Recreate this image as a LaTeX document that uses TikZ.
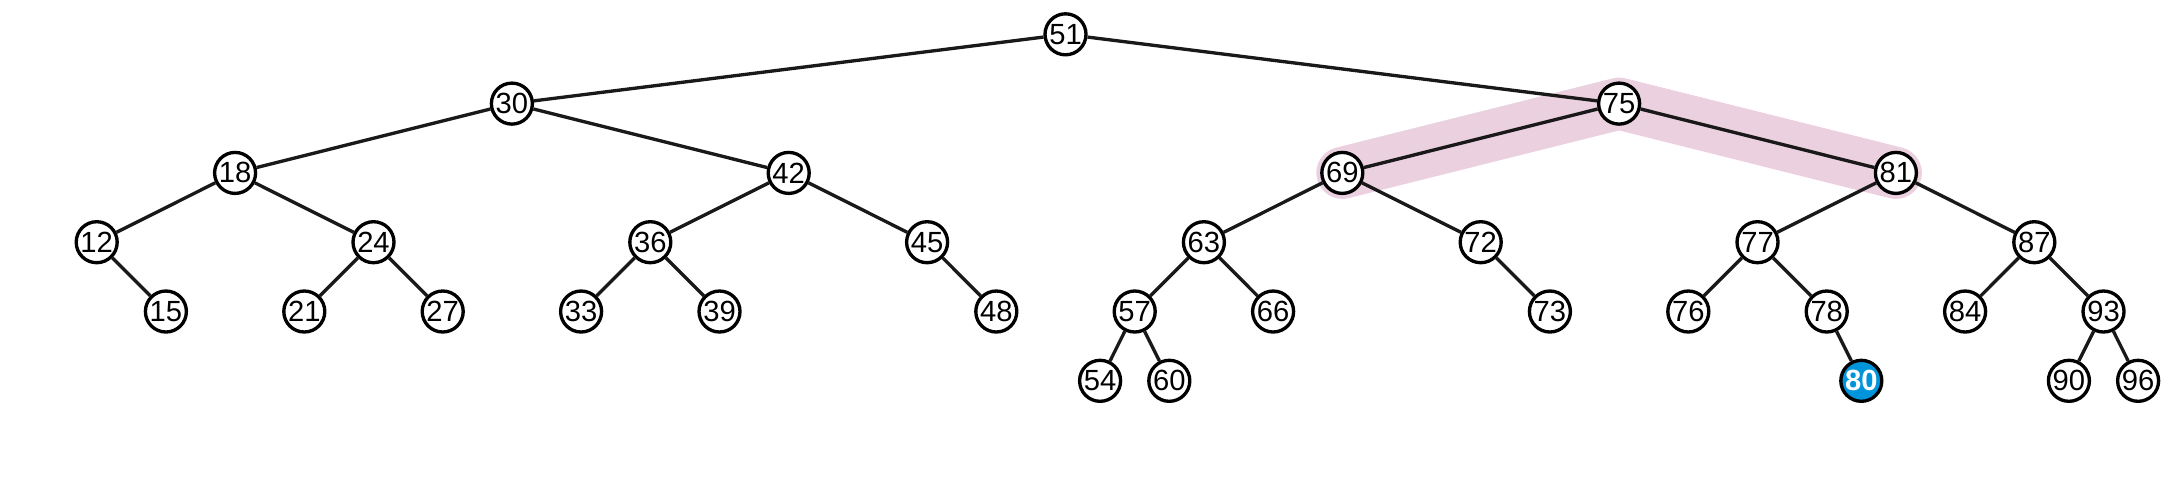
\documentclass[tikz,border=0pt]{standalone}
\usepackage{fontspec}
\setmainfont{Liberation Sans}
\usetikzlibrary{backgrounds}
\definecolor{hlpink}{RGB}{235,208,224}
\definecolor{nodeblue}{RGB}{0,148,218}
\tikzset{
  tn/.style={circle, draw=black, fill=white, line width=0.95pt, inner sep=0pt,
    minimum size=0.41cm, font=\fontsize{8.3}{9}\selectfont},
  hot/.style={tn, fill=nodeblue, text=white, font=\fontsize{8.3}{9}\selectfont\bfseries},
  edge/.style={line width=0.95pt, draw=black!90},
  hl/.style={line width=0.52cm, draw=hlpink, line cap=round, line join=round}
}
\begin{document}
\begin{tikzpicture}
\useasboundingbox (0,0) rectangle (21.68,-4.78);
\begin{scope}[shift={(0.967cm,-0.343cm)}, x=0.692cm, y=-0.693cm]
\node[tn] (a51) at (14,0) {51};
\node[tn] (a30) at (6,1) {30};
\node[tn] (a75) at (22,1) {75};
\node[tn] (a18) at (2,2) {18};
\node[tn] (a42) at (10,2) {42};
\node[tn] (a69) at (18,2) {69};
\node[tn] (a81) at (26,2) {81};
\node[tn] (a12) at (0,3) {12};
\node[tn] (a24) at (4,3) {24};
\node[tn] (a36) at (8,3) {36};
\node[tn] (a45) at (12,3) {45};
\node[tn] (a63) at (16,3) {63};
\node[tn] (a72) at (20,3) {72};
\node[tn] (a77) at (24,3) {77};
\node[tn] (a87) at (28,3) {87};
\node[tn] (a15) at (1,4) {15};
\node[tn] (a21) at (3,4) {21};
\node[tn] (a27) at (5,4) {27};
\node[tn] (a33) at (7,4) {33};
\node[tn] (a39) at (9,4) {39};
\node[tn] (a48) at (13,4) {48};
\node[tn] (a57) at (15,4) {57};
\node[tn] (a66) at (17,4) {66};
\node[tn] (a73) at (21,4) {73};
\node[tn] (a76) at (23,4) {76};
\node[tn] (a78) at (25,4) {78};
\node[tn] (a84) at (27,4) {84};
\node[tn] (a93) at (29,4) {93};
\node[tn] (a54) at (14.5,5) {54};
\node[tn] (a60) at (15.5,5) {60};
\node[hot] (a80) at (25.5,5) {80};
\node[tn] (a90) at (28.5,5) {90};
\node[tn] (a96) at (29.5,5) {96};
\end{scope}
\begin{scope}[on background layer]
\draw[hl] (a69.center) -- (a75.center) -- (a81.center);
\draw[edge] (a51) -- (a30);
\draw[edge] (a51) -- (a75);
\draw[edge] (a30) -- (a18);
\draw[edge] (a30) -- (a42);
\draw[edge] (a75) -- (a69);
\draw[edge] (a75) -- (a81);
\draw[edge] (a18) -- (a12);
\draw[edge] (a18) -- (a24);
\draw[edge] (a42) -- (a36);
\draw[edge] (a42) -- (a45);
\draw[edge] (a69) -- (a63);
\draw[edge] (a69) -- (a72);
\draw[edge] (a81) -- (a77);
\draw[edge] (a81) -- (a87);
\draw[edge] (a12) -- (a15);
\draw[edge] (a24) -- (a21);
\draw[edge] (a24) -- (a27);
\draw[edge] (a36) -- (a33);
\draw[edge] (a36) -- (a39);
\draw[edge] (a45) -- (a48);
\draw[edge] (a63) -- (a57);
\draw[edge] (a63) -- (a66);
\draw[edge] (a72) -- (a73);
\draw[edge] (a77) -- (a76);
\draw[edge] (a77) -- (a78);
\draw[edge] (a87) -- (a84);
\draw[edge] (a87) -- (a93);
\draw[edge] (a57) -- (a54);
\draw[edge] (a57) -- (a60);
\draw[edge] (a78) -- (a80);
\draw[edge] (a93) -- (a90);
\draw[edge] (a93) -- (a96);
\end{scope}
\end{tikzpicture}
\end{document}
